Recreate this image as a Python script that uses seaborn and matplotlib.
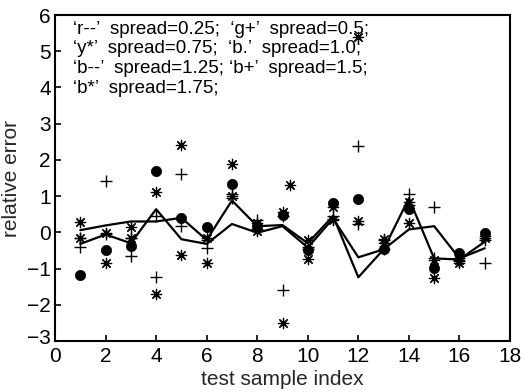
import numpy as np
import pandas as pd
import matplotlib
matplotlib.use("Agg")
import matplotlib.pyplot as plt
import matplotlib.transforms as mtransforms
import seaborn as sns

# ---- data ----
x = list(range(1, 18))
line_r = [-0.32, -0.06, -0.30, 0.64, -0.19, -0.32, 0.23, -0.01, 0.17, -0.42, 0.38, -0.69, -0.47, 0.08, 0.17, -0.72, -0.44]
line_b = [0.06, 0.19, 0.30, 0.30, 0.40, -0.21, 0.88, 0.17, 0.20, -0.30, 0.45, -1.24, -0.47, 0.94, -0.72, -0.75, -0.26]
plus_g = [-0.15, 1.43, -0.17, 0.45, 1.60, -0.20, 1.05, 0.34, 0.45, -0.40, 0.45, 2.37, -0.22, 1.05, 0.71, -0.70, -0.21]
plus_b = [-0.41, -0.05, -0.65, -1.23, 0.17, -0.44, 0.95, 0.10, -1.59, -0.45, 0.38, 0.22, -0.45, 0.75, -0.72, -0.80, -0.86]
star_y = [0.29, -0.03, 0.14, 1.10, 2.41, -0.17, 1.89, 0.25, 0.57, -0.21, 0.71, 5.40, -0.19, 0.85, -0.75, -0.75, -0.17]
star_b = [-0.15, -0.86, -0.17, -1.70, -0.63, -0.84, 1.00, 0.05, -2.50, -0.74, 0.34, 0.32, -0.30, 0.25, -1.25, -0.85, -0.10]
dots_b = [-1.18, -0.49, -0.38, 1.69, 0.39, 0.15, 1.34, 0.17, 0.48, -0.49, 0.82, 0.91, -0.47, 0.64, -0.98, -0.58, -0.01]
extra_star_x = [9.3]
extra_star_y = [1.31]

legend_lines = [
    "\u2018r--\u2019  spread=0.25;  \u2018g+\u2019  spread=0.5;",
    "\u2018y*\u2019  spread=0.75;  \u2018b.\u2019  spread=1.0;",
    "\u2018b--\u2019  spread=1.25; \u2018b+\u2019  spread=1.5;",
    "\u2018b*\u2019  spread=1.75;",
]
xticks = list(range(0, 19, 2))
yticks = list(range(-3, 7))

sns.set_style("white")
plt.rcParams["font.family"] = ["Liberation Sans", "DejaVu Sans"]
plt.rcParams["xtick.direction"] = "in"
plt.rcParams["ytick.direction"] = "in"

fig = plt.figure(figsize=(5.22, 3.92), dpi=100)
ax = fig.add_axes([55 / 522, 1 - 341 / 392, 455 / 522, 326 / 392])

lines_df = pd.DataFrame({"x": x * 2, "y": line_r + line_b,
                         "series": ["r--"] * 17 + ["b--"] * 17})
sns.lineplot(data=lines_df, x="x", y="y", units="series", estimator=None,
             color="black", linewidth=1.6, ax=ax, sort=False)

asterisk = (8, 2, 0)
sns.scatterplot(x=x + x, y=plus_g + plus_b, marker="+", s=75, color="black",
                linewidth=1.0, ax=ax)
sns.scatterplot(x=x + x + extra_star_x, y=star_y + star_b + extra_star_y,
                marker=asterisk, s=55, color="black", linewidth=0.9, ax=ax)
sns.scatterplot(x=x, y=dots_b, marker="o", s=55, color="black",
                edgecolor="black", linewidth=0.5, ax=ax)

ax.set_xlim(0, 18)
ax.set_ylim(-3, 6)
ax.set_xticks(xticks)
ax.set_yticks(yticks)
ax.tick_params(axis="both", labelsize=15, length=4, width=1.2, colors="black",
               top=False, right=False, bottom=True, left=True)
ax.tick_params(axis="x", pad=4)
ax.tick_params(axis="y", pad=3)
for s in ax.spines.values():
    s.set_color("black")
    s.set_linewidth(1.5)
ax.set_xlabel("test sample index", fontsize=15, labelpad=3)
ax.set_ylabel("relative error", fontsize=15, labelpad=4)

fig.canvas.draw()
# lift the lowest y label a little so it clears the "0" of the x axis
lab = ax.get_yticklabels()[0]
lab.set_transform(lab.get_transform() + mtransforms.ScaledTranslation(0, 5 / 100, fig.dpi_scale_trans))

row_y = [0.954, 0.896, 0.837, 0.776]
for txt, yy in zip(legend_lines, row_y):
    ax.text(0.04, yy, txt, transform=ax.transAxes, fontsize=13.5,
            va="center", ha="left", color="black")

fig.savefig("out.png", dpi=100)
